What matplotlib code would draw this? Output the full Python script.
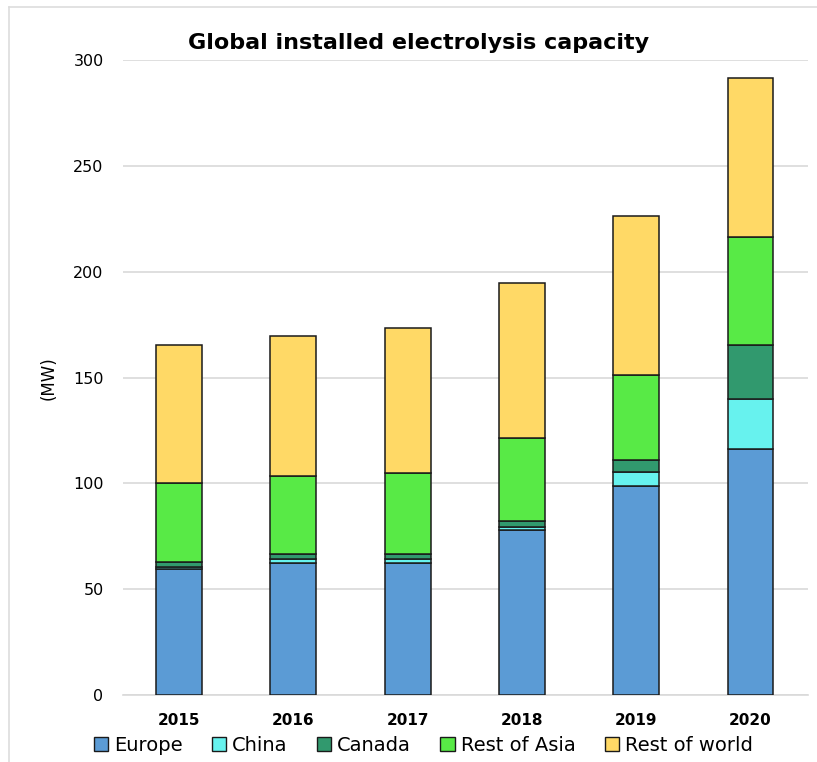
import matplotlib
matplotlib.use('Agg')
from matplotlib import pyplot as plt
from matplotlib.patches import Patch
import numpy as np

years = ['2015', '2016', '2017', '2018', '2019', '2020']
europe = [59.5, 62.4, 62.4, 78.2, 98.9, 116.4]
china = [1.0, 1.9, 1.9, 1.3, 6.3, 23.4]
canada = [2.5, 2.3, 2.3, 2.9, 5.7, 25.7]
rest_of_asia = [37.0, 36.9, 38.3, 39.0, 40.1, 50.9]
rest_of_world = [65.4, 66.1, 68.5, 73.2, 75.3, 75.1]

series = [
    ('Europe', europe, '#5B9BD5'),
    ('China', china, '#67F2EE'),
    ('Canada', canada, '#31996E'),
    ('Rest of Asia', rest_of_asia, '#58EA46'),
    ('Rest of world', rest_of_world, '#FFD966'),
]

plt.rcParams['font.family'] = ['DejaVu Sans']

fig = plt.figure(figsize=(8.17, 7.62), dpi=100)
ax = fig.add_axes([0.1506, 0.0879, 0.838, 0.8333])

x = np.arange(len(years))
bottom = np.zeros(len(years))
for name, vals, color in series:
    ax.bar(x, vals, 0.4, bottom=bottom, color=color, edgecolor='#1a1a1a',
           linewidth=1.1, label=name, zorder=3)
    bottom += np.array(vals)

ax.set_ylim(0, 300)
ax.set_xlim(-0.49, 5.5)
ax.set_yticks(range(0, 301, 50))
ax.set_xticks(x)
ax.set_xticklabels(years, fontsize=11, fontweight='bold')
ax.tick_params(axis='y', labelsize=11.5, length=0, pad=14)
ax.tick_params(axis='x', length=0, pad=13)
ax.yaxis.grid(True, color='#d9d9d9', linewidth=1.2, zorder=0)
for s in ['top', 'right', 'left']:
    ax.spines[s].set_visible(False)
ax.spines['bottom'].set_color('#d9d9d9')
ax.spines['bottom'].set_linewidth(1.2)

fig.text(0.059, 0.504, '(MW)', rotation=90, fontsize=12, ha='center', va='center')
fig.text(0.512, 0.944, 'Global installed electrolysis capacity', fontsize=16,
         fontweight='bold', ha='center', va='center')

handles = [Patch(facecolor=c, edgecolor='#1a1a1a', linewidth=1.0, label=n) for n, _, c in series]
fig.legend(handles=handles, loc='center', bbox_to_anchor=(0.518, 0.022), ncol=5,
           frameon=False, fontsize=14, handlelength=0.75, handleheight=0.75,
           handletextpad=0.3, columnspacing=1.5, borderaxespad=0)

# thin frame along the top and left edges
fig.add_artist(plt.Line2D([0.011, 0.011], [0.0, 0.991], color='#dddddd', linewidth=1.2))
fig.add_artist(plt.Line2D([0.011, 1.0], [0.991, 0.991], color='#dddddd', linewidth=1.2))

fig.savefig('out.png', dpi=100)
